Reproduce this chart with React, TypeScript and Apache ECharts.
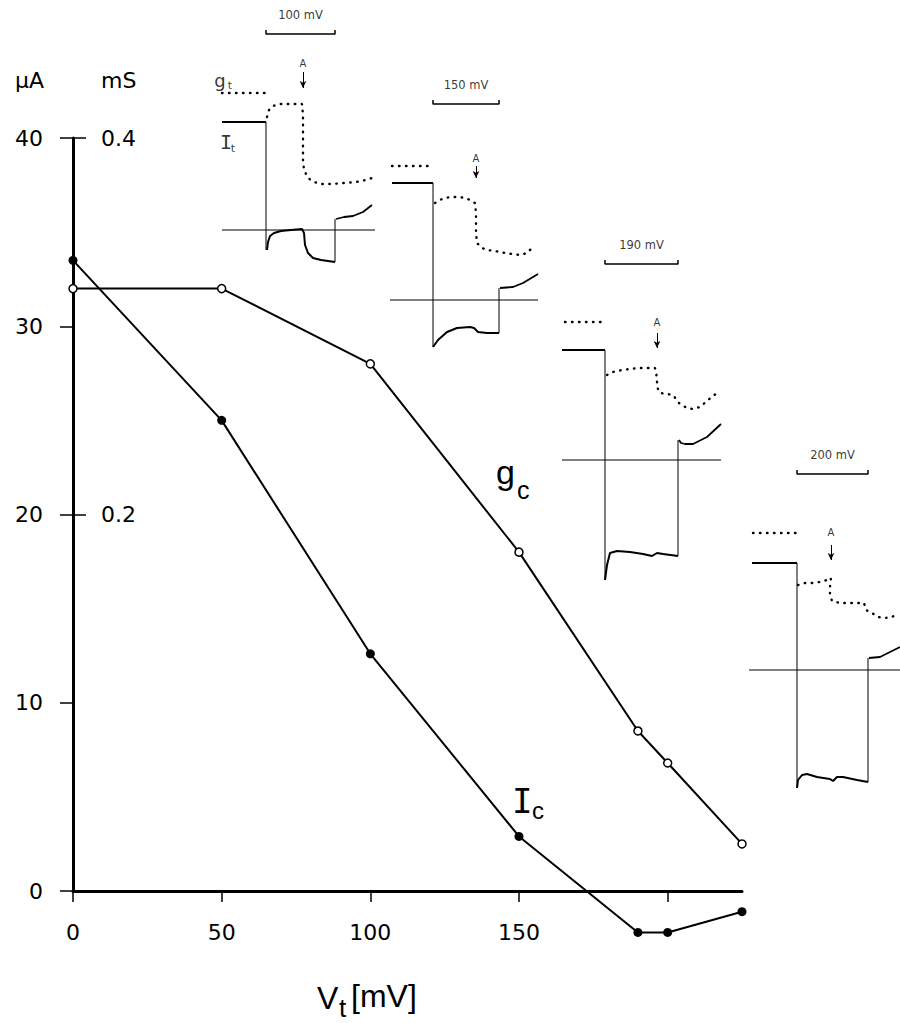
import React, { useEffect, useRef } from "react";
import * as echarts from "echarts";

type P = [number, number];

// ---------- main chart data ----------
const VT_MV = [0, 50, 100, 150, 190, 200, 225];
const IC_UA = [33.5, 25, 12.6, 2.9, -2.2, -2.2, -1.1];
const GC_MS = [0.32, 0.32, 0.28, 0.18, 0.085, 0.068, 0.025];
const Y_TICKS = [0, 10, 20, 30, 40];
const MS_TICKS = [0.2, 0.4];
const X_TICKS = [0, 50, 100, 150, 200];
const X_LABELS = [0, 50, 100, 150];

// ---------- inset traces (t: arbitrary time units, 0 = pulse onset; a: amplitude, 0 = baseline) ----------
const INSET_LABELS = ["100 mV", "150 mV", "190 mV", "200 mV"];
const PULSE_END = [69, 66, 73, 71];
const A_TIME = [37, 43, 52, 34];
const A_LABEL_LEVEL = [167, 142, 138, 138];
const A_ARROW: P[] = [[158, 142], [134, 122], [127, 112], [125, 110]];

const I1_GT_PRE: P[] = [[-44, 137], [-1, 137]];
const I1_GT: P[] = [[1, 113], [3, 120], [7, 124], [14, 126], [24, 126], [36, 126], [37, 115], [37, 100], [37, 85], [37, 70], [38, 60], [42, 52], [48, 48], [56, 46], [66, 46], [78, 47], [90, 48], [100, 50], [106, 52]];
const I1_IT_PRE: P[] = [[-44, 108], [0, 108]];
const I1_ONSET: P[] = [[0, 108], [0, -20]];
const I1_IT: P[] = [[1, -20], [2, -12], [4, -6], [8, -3], [15, -1], [25, 0], [36, 1], [38, -3], [39, -15], [42, -23], [47, -28], [55, -30], [62, -31], [69, -32]];
const I1_OFFSET: P[] = [[69, -32], [69, 11]];
const I1_POST: P[] = [[70, 11], [78, 13], [87, 14], [97, 18], [106, 25]];
const I1_BASE: P[] = [[-44, 0], [109, 0]];

const I2_GT_PRE: P[] = [[-41, 134], [0, 134]];
const I2_GT: P[] = [[2, 97], [9, 101], [17, 103], [27, 103], [35, 101], [42, 97], [43, 87], [43, 77], [43, 67], [44, 57], [49, 52], [54, 50], [62, 49], [72, 47], [79, 46], [87, 45], [94, 47], [100, 53]];
const I2_IT_PRE: P[] = [[-41, 117], [0, 117]];
const I2_ONSET: P[] = [[0, 117], [0, -47]];
const I2_IT: P[] = [[0, -47], [5, -40], [14, -32], [24, -28], [37, -27], [41, -28], [45, -32], [54, -33], [66, -33]];
const I2_OFFSET: P[] = [[66, -33], [66, 12]];
const I2_POST: P[] = [[67, 12], [80, 13], [90, 17], [105, 26]];
const I2_BASE: P[] = [[-43, 0], [105, 0]];

const I3_GT_PRE: P[] = [[-40, 138], [0, 138]];
const I3_GT: P[] = [[2, 85], [8, 88], [17, 90], [25, 91], [33, 92], [42, 92], [50, 92], [52, 82], [52, 73], [55, 67], [62, 66], [68, 65], [74, 57], [82, 52], [88, 51], [95, 53], [103, 60], [112, 67]];
const I3_IT_PRE: P[] = [[-43, 110], [0, 110]];
const I3_ONSET: P[] = [[0, 110], [0, -120]];
const I3_IT: P[] = [[0, -120], [2, -105], [5, -93], [12, -91], [25, -92], [38, -94], [47, -96], [52, -93], [58, -94], [73, -96]];
const I3_OFFSET: P[] = [[73, -96], [73, 20]];
const I3_POST: P[] = [[74, 20], [76, 17], [80, 16], [88, 16], [102, 23], [116, 36]];
const I3_BASE: P[] = [[-43, 0], [116, 0]];

const I4_GT_PRE: P[] = [[-44, 137], [0, 137]];
const I4_GT: P[] = [[1, 85], [8, 87], [15, 87], [23, 88], [30, 90], [34, 92], [33, 83], [33, 76], [35, 69], [43, 67], [51, 67], [60, 67], [67, 67], [69, 60], [75, 57], [81, 53], [88, 52], [95, 53], [101, 57]];
const I4_IT_PRE: P[] = [[-45, 107], [0, 107]];
const I4_ONSET: P[] = [[0, 107], [0, -118]];
const I4_IT: P[] = [[0, -118], [1, -110], [5, -105], [10, -104], [20, -107], [33, -109], [36, -111], [40, -107], [46, -107], [60, -110], [71, -112]];
const I4_OFFSET: P[] = [[71, -112], [71, 12]];
const I4_POST: P[] = [[72, 12], [83, 13], [93, 18], [103, 23]];
const I4_BASE: P[] = [[-48, 0], [103, 0]];

const INSETS = [
  { gtPre: I1_GT_PRE, gt: I1_GT, itPre: I1_IT_PRE, onset: I1_ONSET, it: I1_IT, offset: I1_OFFSET, post: I1_POST, base: I1_BASE },
  { gtPre: I2_GT_PRE, gt: I2_GT, itPre: I2_IT_PRE, onset: I2_ONSET, it: I2_IT, offset: I2_OFFSET, post: I2_POST, base: I2_BASE },
  { gtPre: I3_GT_PRE, gt: I3_GT, itPre: I3_IT_PRE, onset: I3_ONSET, it: I3_IT, offset: I3_OFFSET, post: I3_POST, base: I3_BASE },
  { gtPre: I4_GT_PRE, gt: I4_GT, itPre: I4_IT_PRE, onset: I4_ONSET, it: I4_IT, offset: I4_OFFSET, post: I4_POST, base: I4_BASE },
];

// layout of inset boxes (pixel placement of each inset's origin)
const INSET_ORIGIN: P[] = [[266, 230], [433, 300], [605, 460], [797, 670]];
const INSET_T: P = [-50, 120];
const INSET_A: P = [-130, 225];

const FONT = "'DejaVu Sans', 'Liberation Sans', sans-serif";
const LIB = "'Liberation Sans', Arial, sans-serif";
const BLACK = "#000";

function buildOption() {
  const grids: any[] = [{ left: 73, top: 138, width: 669, height: 753, outerBoundsMode: "none", containLabel: false }];
  const xAxes: any[] = [
    {
      gridIndex: 0,
      type: "value",
      min: 0,
      max: 225,
      splitLine: { show: false },
      axisLine: { show: true, onZero: false, lineStyle: { color: BLACK, width: 3 } },
      axisTick: { show: true, customValues: X_TICKS, length: 11, lineStyle: { color: BLACK, width: 1.5 } },
      axisLabel: { show: true, customValues: X_LABELS, margin: 30, fontSize: 22, color: BLACK, fontFamily: FONT },
    },
  ];
  const yAxes: any[] = [
    {
      gridIndex: 0,
      type: "value",
      min: 0,
      max: 40,
      position: "left",
      splitLine: { show: false },
      axisLine: { show: true, onZero: false, lineStyle: { color: BLACK, width: 3 } },
      axisTick: { show: true, customValues: Y_TICKS, length: 13, lineStyle: { color: BLACK, width: 1.5 } },
      axisLabel: { show: true, customValues: Y_TICKS, margin: 30, fontSize: 22, color: BLACK, fontFamily: FONT },
      name: "μA",
      nameLocation: "end",
      nameGap: 47,
      nameTextStyle: { fontSize: 22, color: BLACK, fontFamily: FONT, align: "right", padding: [0, 29, 0, 0] },
    },
    {
      gridIndex: 0,
      type: "value",
      min: 0,
      max: 0.4,
      position: "left",
      offset: 0,
      splitLine: { show: false },
      axisLine: { show: false },
      axisTick: { show: true, inside: true, customValues: MS_TICKS, length: 13, lineStyle: { color: BLACK, width: 1.5 } },
      axisLabel: {
        show: true,
        inside: true,
        customValues: MS_TICKS,
        margin: 28,
        fontSize: 22,
        color: BLACK,
        fontFamily: FONT,
        formatter: (v: number) => v.toFixed(1),
      },
      name: "mS",
      nameLocation: "end",
      nameGap: 47,
      nameTextStyle: { fontSize: 22, color: BLACK, fontFamily: FONT, align: "left", padding: [0, 0, 0, 28] },
    },
  ];

  const series: any[] = [
    {
      name: "Ic",
      type: "line",
      xAxisIndex: 0,
      yAxisIndex: 0,
      data: VT_MV.map((v, i) => [v, IC_UA[i]]),
      symbol: "circle",
      symbolSize: 9,
      clip: false,
      itemStyle: { color: BLACK },
      lineStyle: { color: BLACK, width: 2 },
      z: 3,
    },
    {
      name: "gc",
      type: "line",
      xAxisIndex: 0,
      yAxisIndex: 1,
      data: VT_MV.map((v, i) => [v, GC_MS[i]]),
      symbol: "circle",
      symbolSize: 8,
      clip: false,
      itemStyle: { color: "#fff", borderColor: BLACK, borderWidth: 1.5 },
      lineStyle: { color: BLACK, width: 2 },
      z: 3,
    },
  ];

  const dotted = { color: BLACK, width: 2.4, type: [0.5, 6.5], cap: "round" };

  INSETS.forEach((ins, k) => {
    const gi = k + 1;
    const [ox, oy] = INSET_ORIGIN[k];
    grids.push({
      left: ox + INSET_T[0],
      top: oy - INSET_A[1],
      width: INSET_T[1] - INSET_T[0],
      height: INSET_A[1] - INSET_A[0],
      outerBoundsMode: "none",
      containLabel: false,
    });
    xAxes.push({ gridIndex: gi, type: "value", min: INSET_T[0], max: INSET_T[1], show: false });
    yAxes.push({ gridIndex: gi, type: "value", min: INSET_A[0], max: INSET_A[1], show: false });
    const xi = gi;
    const yi = gi + 1;
    const line = (data: P[], lineStyle: any) => ({
      type: "line",
      xAxisIndex: xi,
      yAxisIndex: yi,
      data,
      symbol: "none",
      lineStyle,
      silent: true,
      clip: false,
    });
    series.push(line(ins.gtPre, dotted));
    series.push(line(ins.gt, dotted));
    series.push(line(ins.itPre, { color: BLACK, width: 1.8 }));
    series.push(line(ins.onset, { color: BLACK, width: 1 }));
    series.push(line(ins.it, { color: BLACK, width: 2 }));
    series.push(line(ins.offset, { color: BLACK, width: 1 }));
    series.push(line(ins.post, { color: BLACK, width: 1.8 }));
    const baseSeries: any = line(ins.base, { color: BLACK, width: 1 });
    baseSeries.markLine = {
      silent: true,
      symbol: ["none", "arrow"],
      symbolSize: [5, 7],
      lineStyle: { color: BLACK, width: 1, type: "solid" },
      label: { show: false },
      data: [[{ coord: [A_TIME[k], A_ARROW[k][0]] }, { coord: [A_TIME[k], A_ARROW[k][1]] }]],
    };
    series.push(baseSeries);
    // scale bar
    const end = PULSE_END[k];
    series.push(line([[0, 200], [0, 196], [end, 196], [end, 200]], { color: BLACK, width: 1.5 }));
    // texts
    const lab = (formatter: string, fontSize: number, fontFamily = FONT) => ({
      show: true,
      position: [0, 0],
      align: "center",
      verticalAlign: "middle",
      formatter,
      fontSize,
      fontFamily,
      color: BLACK,
      textBorderWidth: 0,
    });
    const texts: any[] = [
      { value: [end / 2, 215], label: lab(INSET_LABELS[k], 11.5) },
      { value: [A_TIME[k], A_LABEL_LEVEL[k]], label: lab("A", 10) },
    ];
    if (k === 0) {
      texts.push({ value: [-46, 150], label: lab("g", 18) });
      texts.push({ value: [-36, 145], label: lab("t", 11) });
      texts.push({ value: [-40, 88], label: lab("I", 20, "'DejaVu Sans Mono', monospace") });
      texts.push({ value: [-33, 82], label: lab("t", 11) });
    }
    series.push({
      type: "scatter",
      xAxisIndex: xi,
      yAxisIndex: yi,
      symbolSize: 0,
      silent: true,
      itemStyle: { color: BLACK },
      label: { show: true, color: BLACK, fontFamily: FONT },
      data: texts,
    });
  });

  const graphic: any[] = [
    { type: "text", left: 317, top: 982, style: { text: "V", fill: BLACK, font: `32px ${LIB}` } },
    { type: "text", left: 339, top: 995, style: { text: "t", fill: BLACK, font: `26px ${LIB}` } },
    { type: "text", left: 351, top: 980, style: { text: "[mV]", fill: BLACK, font: `32px ${LIB}` } },
    { type: "text", left: 496, top: 455, style: { text: "g", fill: BLACK, font: `34px ${LIB}` } },
    { type: "text", left: 517, top: 477, style: { text: "c", fill: BLACK, font: `25px ${LIB}` } },
    { type: "text", left: 512, top: 784, style: { text: "I", fill: BLACK, font: "34px 'DejaVu Sans Mono', monospace" } },
    { type: "text", left: 532, top: 798, style: { text: "c", fill: BLACK, font: `24px ${LIB}` } },
  ];

  return {
    animation: false,
    backgroundColor: "#fff",
    grid: grids,
    xAxis: xAxes,
    yAxis: yAxes,
    series,
    graphic,
  };
}

export default function App() {
  const ref = useRef<HTMLDivElement>(null);
  useEffect(() => {
    if (!ref.current) return;
    const chart = echarts.init(ref.current, undefined, { renderer: "svg" });
    chart.setOption(buildOption());
    return () => chart.dispose();
  }, []);
  return <div ref={ref} style={{ position: "absolute", left: 0, top: 0, width: 900, height: 1023 }} />;
}
